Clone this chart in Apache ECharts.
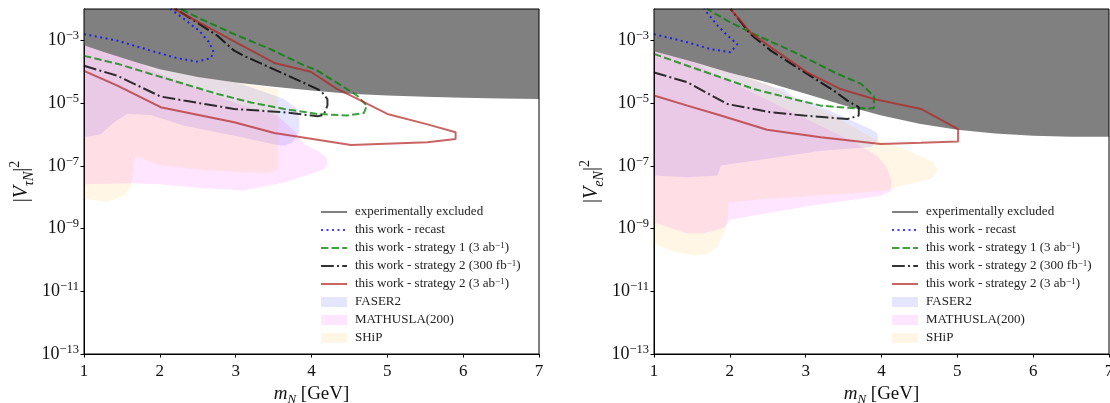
<!DOCTYPE html>
<html><head><meta charset="utf-8">
<script src="https://cdn.jsdelivr.net/npm/echarts@6/dist/echarts.min.js"></script>
<style>html,body{margin:0;padding:0;background:#fff}#c{width:1110px;height:403px}</style>
</head><body><div id="c"></div><script>
// ---- tick labels ----
const yTicks = [1e-13, 1e-11, 1e-9, 1e-7, 1e-5, 1e-3];
const xTicks = [1, 2, 3, 4, 5, 6, 7];

// ---- left panel: |V_tauN|^2 ----
const greyTau = [[1,7e-4],[1.25,4.3e-4],[1.5,2.8e-4],[1.75,1.8e-4],[2,1.2e-4],[2.5,6.8e-5],[3,4.5e-5],[3.5,3.3e-5],[4,2.5e-5],[4.5,2.0e-5],[5,1.75e-5],[5.5,1.6e-5],[6,1.48e-5],[6.5,1.4e-5],[7,1.35e-5]];
const recastTau = [[1,1.58e-3],[1.44,9.8e-4],[1.88,4.7e-4],[2.23,2.7e-4],[2.49,2.1e-4],[2.67,2.7e-4],[2.71,4.2e-4],[2.65,8.7e-4],[2.52,2.0e-3],[2.32,4.8e-3],[2.14,1e-2]];
const s1Tau = [[1,3.2e-4],[1.44,1.8e-4],[1.88,8.5e-5],[2.32,4.1e-5],[2.76,1.95e-5],[3.2,1.05e-5],[3.64,6.5e-6],[4.08,4.5e-6],[4.47,4.0e-6],[4.69,4.8e-6],[4.73,8.3e-6],[4.6,1.74e-5],[4.43,3.2e-5],[4.08,1.07e-4],[3.86,1.78e-4],[3.46,5.2e-4],[2.98,1.58e-3],[2.54,4.8e-3],[2.27,1e-2]];
const s2aTau = [[1,1.55e-4],[1.44,7.4e-5],[2.01,1.62e-5],[2.32,1.2e-5],[2.98,6.5e-6],[3.64,5.1e-6],[4.08,3.8e-6],[4.16,4.2e-6],[4.21,8.3e-6],[4.21,1.35e-5],[4.14,2.2e-5],[4.08,2.8e-5],[3.64,8.5e-5],[3.11,3.2e-4],[2.98,4.7e-4],[2.76,1.4e-3],[2.49,3.7e-3],[2.21,1e-2]];
const s2bTau = [[1,1.07e-4],[1.44,3.6e-5],[2.01,7.4e-6],[2.98,2.45e-6],[3.51,1.12e-6],[4.52,4.6e-7],[5.53,5.6e-7],[5.9,7.2e-7],[5.9,1.17e-6],[5.53,2.1e-6],[5.0,4.5e-6],[4.52,1.74e-5],[4.34,2.8e-5],[3.99,1e-4],[3.51,1.9e-4],[2.98,9.3e-4],[2.19,1e-2]];
const faserTau = [[1,1e-3],[2,1.26e-4],[3.07,4.1e-5],[3.64,1.35e-5],[3.81,6.5e-6],[3.84,3.1e-6],[3.84,1.17e-6],[3.75,5.6e-7],[3.64,4.4e-7],[3.55,4.6e-7],[2.98,9.1e-7],[2.32,1.9e-6],[1.88,4.2e-6],[1.57,4.5e-6],[1.4,2.45e-6],[1.22,1.02e-6],[1,8.1e-7]];
const mathuslaTau = [[1,1.26e-3],[1.7,2.0e-4],[1.9,1.12e-4],[2.5,2.8e-5],[3.0,1e-5],[3.55,4e-6],[3.78,1.26e-6],[3.9,5e-7],[4.08,3.0e-7],[4.2,1.78e-7],[4.21,1.12e-7],[4.16,7.9e-8],[4.08,6.6e-8],[3.64,2.95e-8],[3.11,1.62e-8],[2.5,2.0e-8],[2.0,2.6e-8],[1.6,2.8e-8],[1,2.6e-8]];
const shipTau = [[1,1.58e-3],[2,1.26e-4],[3,4.5e-5],[3.56,2.8e-5],[3.56,7.9e-8],[3.45,6.0e-8],[3.0,6.3e-8],[2.5,7.6e-8],[2.0,1.05e-7],[1.75,1.78e-7],[1.68,2.1e-7],[1.65,1e-7],[1.64,4.9e-8],[1.62,2.3e-8],[1.53,1.12e-8],[1.31,7.2e-9],[1,8.7e-9]];

// ---- right panel: |V_eN|^2 ----
const greyE = [[1,4.5e-4],[1.5,2.1e-4],[2,9.3e-5],[2.5,4.5e-5],[3,2.0e-5],[3.5,8.5e-6],[4,4.0e-6],[4.5,2.2e-6],[5,1.4e-6],[5.5,1.07e-6],[6,9.1e-7],[6.5,8.5e-7],[7,8.5e-7]];
const recastE = [[1,1.58e-3],[1.44,8.7e-4],[1.75,5.2e-4],[2.01,4.2e-4],[2.1,7.6e-4],[1.97,1.41e-3],[1.84,2.95e-3],[1.66,1e-2]];
const s1E = [[1,3.7e-4],[1.44,1.55e-4],[1.88,6.6e-5],[2.32,2.8e-5],[2.76,1.5e-5],[3.2,8.3e-6],[3.64,6.8e-6],[3.9,6.8e-6],[3.9,1.66e-5],[3.73,4.1e-5],[3.42,8.5e-5],[2.85,4.2e-4],[2.32,1.58e-3],[2.01,3.7e-3],[1.7,1e-2]];
const s2aE = [[1,9.5e-5],[1.44,4.6e-5],[1.97,9.3e-6],[2.54,5.1e-6],[2.98,4.0e-6],[3.55,3.1e-6],[3.7,4.0e-6],[3.7,7.4e-6],[3.55,1.2e-5],[3.37,2.5e-5],[3.02,8.5e-5],[2.54,4.7e-4],[2.27,1.58e-3],[2.01,1e-2]];
const s2bE = [[1,1.74e-5],[1.44,8.3e-6],[1.88,4.0e-6],[2.49,1.41e-6],[3.2,8.1e-7],[3.99,5.0e-7],[4.52,5.4e-7],[5.01,6.0e-7],[5.01,1.48e-6],[4.52,6.5e-6],[3.9,1.35e-5],[3.46,2.8e-5],[3.02,9.5e-5],[2.54,6.0e-4],[2.27,1.8e-3],[2.01,1e-2]];
const faserE = [[1,6.3e-4],[2,1e-4],[2.58,3.2e-5],[2.71,2.8e-5],[2.85,1.5e-5],[3.07,1.05e-5],[3.46,4.0e-6],[3.9,1.32e-6],[3.95,1.02e-6],[3.95,6.3e-7],[3.86,3.9e-7],[3.64,3.6e-7],[3.2,3.0e-7],[2.76,2.1e-7],[2.32,1.45e-7],[1.88,1.02e-7],[1.84,4.9e-8],[1.44,4.3e-8],[1,4.9e-8]];
const mathuslaE = [[1,1e-3],[1.9,6.3e-5],[3.64,5.6e-7],[3.95,2.0e-7],[4.08,7.9e-8],[4.13,3.2e-8],[4.12,1.58e-8],[4.0,1.12e-8],[3.0,5.0e-9],[2.0,1.9e-9],[1.93,1.07e-9],[1.66,7.1e-10],[1.43,7.1e-10],[1,1.55e-9]];
const shipE = [[1,1e-3],[2.5,4.0e-5],[2.85,1.41e-5],[3.3,5.0e-6],[3.86,8.1e-7],[4.3,3.5e-7],[4.69,1.29e-7],[4.74,7.1e-8],[4.65,3.8e-8],[4.16,2.0e-8],[4.08,1.62e-8],[3.5,1.26e-8],[2.5,8.9e-9],[1.98,6.9e-9],[1.97,2.0e-9],[1.93,8.5e-10],[1.84,2.75e-10],[1.7,1.51e-10],[1.52,1.38e-10],[1.24,1.9e-10],[1,3.2e-10]];

// ---- names ----
const N = {
  grey: 'experimentally excluded',
  recast: 'this work - recast',
  s1: 'this work - strategy 1 (3 ab-1)',
  s2a: 'this work - strategy 2 (300 fb-1)',
  s2b: 'this work - strategy 2 (3 ab-1)',
  faser: 'FASER2',
  mathusla: 'MATHUSLA(200)',
  ship: 'SHiP'
};
const legendText = {};
legendText[N.grey] = N.grey;
legendText[N.recast] = N.recast;
legendText[N.s1] = 'this work - strategy 1 (3 ab{sup|−1})';
legendText[N.s2a] = 'this work - strategy 2 (300 fb{sup|−1})';
legendText[N.s2b] = 'this work - strategy 2 (3 ab{sup|−1})';
legendText[N.faser] = N.faser;
legendText[N.mathusla] = N.mathusla;
legendText[N.ship] = N.ship;

const FONT = "'Liberation Serif', 'DejaVu Serif', serif";
const COL = {
  grey: '#808080',
  recast: 'rgba(0,0,255,0.75)',
  s1: 'rgba(0,128,0,0.75)',
  s2a: 'rgba(0,0,0,0.8)',
  s2b: 'rgba(178,34,34,0.7)',
  faser: 'rgba(0,0,255,0.1)',
  mathusla: 'rgba(255,0,255,0.1)',
  ship: 'rgba(255,165,0,0.1)'
};

function fillSeries(name, pts, color, idx) {
  return {
    type: 'custom', name: name, xAxisIndex: idx, yAxisIndex: idx, z: 1,
    data: pts, itemStyle: { color: color }, silent: true, animation: false,
    renderItem: function (params, api) {
      if (params.dataIndexInside !== 0) return null;
      return { type: 'polygon', shape: { points: pts.map(function (p) { return api.coord(p); }) }, style: { fill: color } };
    }
  };
}
function greySeries(pts, idx) {
  return {
    type: 'line', name: N.grey, xAxisIndex: idx, yAxisIndex: idx, z: 2, data: pts,
    symbol: 'none', silent: true, animation: false,
    lineStyle: { width: 0, color: COL.grey }, itemStyle: { color: COL.grey },
    areaStyle: { color: COL.grey, opacity: 1, origin: 'end' }
  };
}
function lineSeries(name, pts, color, type, idx) {
  return {
    type: 'line', name: name, xAxisIndex: idx, yAxisIndex: idx, z: 3, data: pts,
    symbol: 'none', silent: true, animation: false,
    lineStyle: { color: color, width: 2, type: type, cap: 'butt' }, itemStyle: { color: color }
  };
}
function panelSeries(d, idx) {
  return [
    fillSeries(N.faser, d.faser, COL.faser, idx),
    fillSeries(N.mathusla, d.mathusla, COL.mathusla, idx),
    fillSeries(N.ship, d.ship, COL.ship, idx),
    greySeries(d.grey, idx),
    lineSeries(N.recast, d.recast, COL.recast, [2, 3.5], idx),
    lineSeries(N.s1, d.s1, COL.s1, [7.4, 3.2], idx),
    lineSeries(N.s2a, d.s2a, COL.s2a, [12.8, 3.2, 2, 3.2], idx),
    lineSeries(N.s2b, d.s2b, COL.s2b, 'solid', idx)
  ];
}
const HIDE_SYM = { color: 'rgba(0,0,0,0)', borderColor: 'rgba(0,0,0,0)', borderWidth: 0 };
function makeLegend(left) {
  return {
    orient: 'vertical', left: left, top: 205, padding: 0,
    itemWidth: 26, itemHeight: 10, itemGap: 4, selectedMode: false,
    textStyle: { fontFamily: FONT, fontSize: 13, color: '#222', lineHeight: 14, padding: [0, 0, 0, 3],
      rich: { sup: { fontFamily: FONT, fontSize: 9, lineHeight: 7, verticalAlign: 'top', color: '#222' } } },
    formatter: function (n) { return legendText[n]; },
    data: [
      { name: N.grey, lineStyle: { width: 2, color: COL.grey }, itemStyle: HIDE_SYM },
      { name: N.recast, itemStyle: HIDE_SYM },
      { name: N.s1, itemStyle: HIDE_SYM },
      { name: N.s2a, itemStyle: HIDE_SYM },
      { name: N.s2b, itemStyle: HIDE_SYM },
      { name: N.faser, icon: 'rect' },
      { name: N.mathusla, icon: 'rect' },
      { name: N.ship, icon: 'rect' }
    ]
  };
}
const tickRich = {
  b: { fontFamily: FONT, fontSize: 18, lineHeight: 22, color: '#111' },
  e: { fontFamily: FONT, fontSize: 12.5, lineHeight: 12, verticalAlign: 'top', color: '#111' }
};
const nameRich = {
  n: { fontFamily: FONT, fontSize: 20, lineHeight: 28, color: '#111' },
  i: { fontFamily: FONT, fontSize: 20, fontStyle: 'italic', lineHeight: 28, color: '#111' },
  sub: { fontFamily: FONT, fontSize: 14, fontStyle: 'italic', lineHeight: 14, verticalAlign: 'bottom', color: '#111' },
  sup: { fontFamily: FONT, fontSize: 14, lineHeight: 14, verticalAlign: 'top', color: '#111' }
};
const xNameRich = {
  n: { fontFamily: FONT, fontSize: 19, lineHeight: 24, color: '#111' },
  i: { fontFamily: FONT, fontSize: 19, fontStyle: 'italic', lineHeight: 24, color: '#111' },
  sub: { fontFamily: FONT, fontSize: 13, fontStyle: 'italic', lineHeight: 12, verticalAlign: 'bottom', color: '#111' }
};
function xAx(i) {
  return {
    type: 'value', gridIndex: i, min: xTicks[0], max: xTicks[xTicks.length - 1], interval: 1,
    name: '{i|m}{sub|N}{n| [GeV]}', nameLocation: 'middle', nameGap: 26,
    nameTextStyle: { rich: xNameRich },
    axisLine: { show: true, onZero: false, lineStyle: { color: '#000', width: 1 } },
    axisTick: { show: true, length: 3.5, lineStyle: { color: '#000' } },
    axisLabel: { fontFamily: FONT, fontSize: 17, color: '#111', margin: 9 },
    splitLine: { show: false }
  };
}
function yAx(i, sub) {
  return {
    type: 'log', gridIndex: i, logBase: 10, min: 1e-13, max: 1e-2,
    name: '{n||}{i|V}{sub|' + sub + '}{n||}{sup|2}', nameLocation: 'middle', nameGap: 48, nameRotate: 90,
    nameTextStyle: { rich: nameRich },
    axisLine: { show: true, onZero: false, lineStyle: { color: '#000', width: 1 } },
    axisTick: { show: true, length: 3.5, customValues: yTicks, lineStyle: { color: '#000' } },
    axisLabel: { customValues: yTicks, margin: 5, rich: tickRich,
      formatter: function (v) { const e = Math.round(Math.log10(v)); return '{b|10}{e|−' + (-e) + '}'; } },
    splitLine: { show: false }, minorTick: { show: false }
  };
}

const chart = echarts.init(document.getElementById('c'), null, { renderer: 'canvas' });
chart.setOption({
  animation: false,
  backgroundColor: '#fff',
  grid: [
    { left: 84, top: 9, width: 455, height: 345, containLabel: false, outerBoundsMode: 'none', show: true, borderColor: '#000', borderWidth: 1, backgroundColor: 'transparent', z: 10 },
    { left: 654, top: 9, width: 455, height: 345, containLabel: false, outerBoundsMode: 'none', show: true, borderColor: '#000', borderWidth: 1, backgroundColor: 'transparent', z: 10 }
  ],
  legend: [makeLegend(320), makeLegend(891)],
  xAxis: [xAx(0), xAx(1)],
  yAxis: [yAx(0, 'τN'), yAx(1, 'eN')],
  series: panelSeries({ grey: greyTau, recast: recastTau, s1: s1Tau, s2a: s2aTau, s2b: s2bTau, faser: faserTau, mathusla: mathuslaTau, ship: shipTau }, 0)
    .concat(panelSeries({ grey: greyE, recast: recastE, s1: s1E, s2a: s2aE, s2b: s2bE, faser: faserE, mathusla: mathuslaE, ship: shipE }, 1))
});
</script></body></html>
